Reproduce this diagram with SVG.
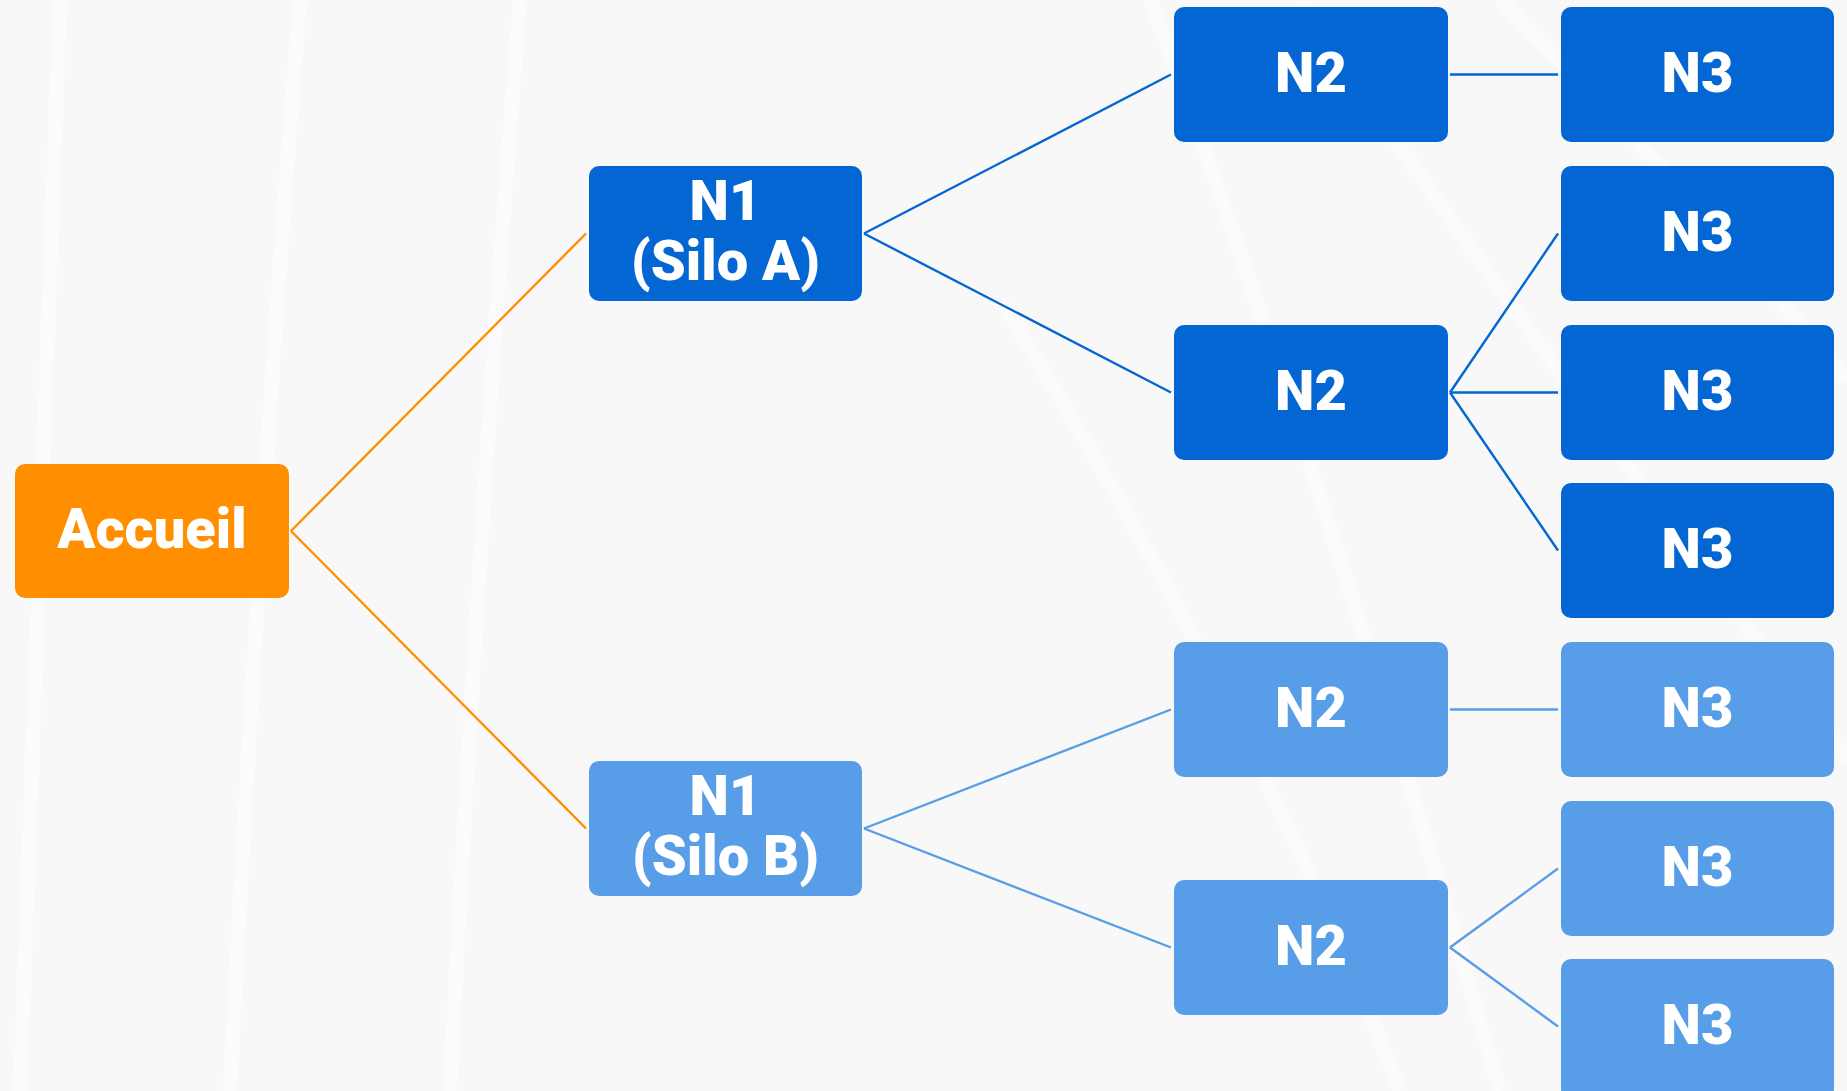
<svg xmlns="http://www.w3.org/2000/svg" width="1847" height="1091" viewBox="0 0 1847 1091">
<defs>
<style>
.bg{fill:#f8f8f8}
.tex{fill:none;stroke:#ffffff;stroke-width:14;opacity:0.45}
.box{stroke:none}
.dark{fill:#0366d2}
.light{fill:#589de7}
.orange{fill:#ff8e00}
.lbl{font-family:Roboto,"Liberation Sans",sans-serif;font-weight:900;font-size:56px;fill:#ffffff;text-anchor:middle}
.c-o{stroke:#ff8e00;stroke-width:2.4;fill:none}
.c-d{stroke:#0366d2;stroke-width:2.4;fill:none}
.c-l{stroke:#589de7;stroke-width:2.4;fill:none}
</style>
</defs>
<rect class="bg" x="0" y="0" width="1847" height="1091"/>
<g id="texture">
<path class="tex" d="M60 0 Q40 500 20 1091"/>
<path class="tex" d="M300 0 Q260 500 230 1091"/>
<path class="tex" d="M520 0 Q480 500 450 1091"/>
<path class="tex" d="M1150 0 Q1300 400 1500 1091"/>
<path class="tex" d="M1300 0 Q1500 300 1847 760"/>
<path class="tex" d="M1500 0 Q1700 200 1847 380"/>
<path class="tex" d="M1000 300 Q1250 700 1400 1091"/>
</g>
<g id="connectors">
<path class="c-o" d="M291 531 L586 233.5"/>
<path class="c-o" d="M291 531 L586 828.5"/>
<path class="c-d" d="M864 233.5 L1171 74.5"/>
<path class="c-d" d="M864 233.5 L1171 392.5"/>
<path class="c-l" d="M864 828.5 L1171 709.5"/>
<path class="c-l" d="M864 828.5 L1171 947.5"/>
<path class="c-d" d="M1450 74.5 L1558 74.5"/>
<path class="c-d" d="M1450 392.5 L1558 233.5"/>
<path class="c-d" d="M1450 392.5 L1558 392.5"/>
<path class="c-d" d="M1450 392.5 L1558 550.5"/>
<path class="c-l" d="M1450 709.5 L1558 709.5"/>
<path class="c-l" d="M1450 947.5 L1558 868.5"/>
<path class="c-l" d="M1450 947.5 L1558 1026.5"/>
</g>
<g id="accueil">
<rect class="box orange" x="15" y="464" width="274" height="134" rx="10"/>
<text class="lbl" x="152" y="548">Accueil</text>
</g>
<g id="n1-silo-a">
<rect class="box dark" x="589" y="166" width="273" height="135" rx="10"/>
<text class="lbl" x="725.5" y="220">N1</text>
<text class="lbl" x="725.5" y="280">(Silo A)</text>
</g>
<g id="n1-silo-b">
<rect class="box light" x="589" y="761" width="273" height="135" rx="10"/>
<text class="lbl" x="725.5" y="815">N1</text>
<text class="lbl" x="725.5" y="875">(Silo B)</text>
</g>
<g id="n2-a1">
<rect class="box dark" x="1174" y="7" width="274" height="135" rx="10"/>
<text class="lbl" x="1311" y="92">N2</text>
</g>
<g id="n2-a2">
<rect class="box dark" x="1174" y="325" width="274" height="135" rx="10"/>
<text class="lbl" x="1311" y="410">N2</text>
</g>
<g id="n2-b1">
<rect class="box light" x="1174" y="642" width="274" height="135" rx="10"/>
<text class="lbl" x="1311" y="727">N2</text>
</g>
<g id="n2-b2">
<rect class="box light" x="1174" y="880" width="274" height="135" rx="10"/>
<text class="lbl" x="1311" y="965">N2</text>
</g>
<g id="n3-a1">
<rect class="box dark" x="1561" y="7" width="273" height="135" rx="10"/>
<text class="lbl" x="1697.5" y="92">N3</text>
</g>
<g id="n3-a2">
<rect class="box dark" x="1561" y="166" width="273" height="135" rx="10"/>
<text class="lbl" x="1697.5" y="251">N3</text>
</g>
<g id="n3-a3">
<rect class="box dark" x="1561" y="325" width="273" height="135" rx="10"/>
<text class="lbl" x="1697.5" y="410">N3</text>
</g>
<g id="n3-a4">
<rect class="box dark" x="1561" y="483" width="273" height="135" rx="10"/>
<text class="lbl" x="1697.5" y="568">N3</text>
</g>
<g id="n3-b1">
<rect class="box light" x="1561" y="642" width="273" height="135" rx="10"/>
<text class="lbl" x="1697.5" y="727">N3</text>
</g>
<g id="n3-b2">
<rect class="box light" x="1561" y="801" width="273" height="135" rx="10"/>
<text class="lbl" x="1697.5" y="886">N3</text>
</g>
<g id="n3-b3">
<rect class="box light" x="1561" y="959" width="273" height="140" rx="10"/>
<text class="lbl" x="1697.5" y="1044">N3</text>
</g>
</svg>
